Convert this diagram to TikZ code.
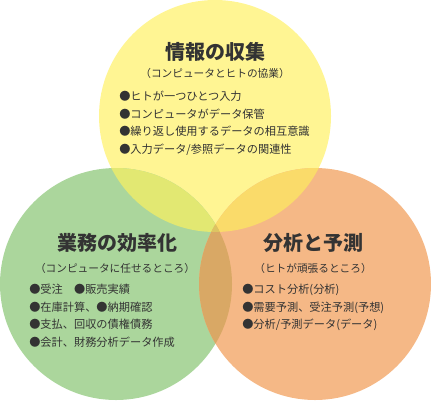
\documentclass[tikz,border=0pt]{standalone}
\usepackage{fontspec}
\setmainfont{Noto Sans CJK JP}
\usepackage{xcolor}
\usetikzlibrary{positioning}

\definecolor{circYellow}{HTML}{FFF593}
\definecolor{circGreen}{HTML}{ABD69C}
\definecolor{circOrange}{HTML}{F5B886}
\definecolor{mixYG}{HTML}{E2E872}
\definecolor{mixYO}{HTML}{FADB6A}
\definecolor{mixGO}{HTML}{D9A865}
\definecolor{mixAll}{HTML}{DDC462}
\definecolor{txtGray}{HTML}{333333}

\newcommand{\circY}{(215,116) circle (116)}
\newcommand{\circG}{(116,284) circle (116)}
\newcommand{\circO}{(315,284) circle (116)}

\tikzset{
  headline/.style={text=txtGray, font=\fontsize{15}{18}\selectfont\bfseries, inner sep=0pt},
  subline/.style={text=txtGray, font=\fontsize{8}{10}\selectfont, inner sep=0pt},
  itemlist/.style={text=txtGray, font=\fontsize{8.4}{13.1}\selectfont, inner sep=0pt, align=left, anchor=north west}
}

\begin{document}
\begin{tikzpicture}[x=0.75pt, y=-0.75pt]
  \useasboundingbox (0,0) rectangle (431,400);
  % circles
  \fill[circYellow] \circY;
  \fill[circGreen] \circG;
  \fill[circOrange] \circO;
  % overlaps
  \begin{scope}
    \clip \circY;
    \fill[mixYG] \circG;
    \fill[mixYO] \circO;
  \end{scope}
  \begin{scope}
    \clip \circG;
    \fill[mixGO] \circO;
  \end{scope}
  \begin{scope}
    \clip \circY;
    \clip \circG;
    \fill[mixAll] \circO;
  \end{scope}

  % top: 情報の収集
  \node[headline] (infoTitle) at (215,52) {情報の収集};
  \node[subline] (infoSub) at (215,73) {（コンピュータとヒトの協業）};
  \node[itemlist] (infoList) at (119,91) {●ヒトが一つひとつ入力\\●コンピュータがデータ保管\\●繰り返し使用するデータの相互意識\\●入力データ/参照データの関連性};

  % left: 業務の効率化
  \node[headline] (workTitle) at (117,243) {業務の効率化};
  \node[subline] (workSub) at (115,268) {（コンピュータに任せるところ）};
  \node[itemlist] (workList) at (29,284) {●受注　●販売実績\\●在庫計算、●納期確認\\●支払、回収の債権債務\\●会計、財務分析データ作成};

  % right: 分析と予測
  \node[headline] (anaTitle) at (313,243) {分析と予測};
  \node[subline] (anaSub) at (313,268) {（ヒトが頑張るところ）};
  \node[itemlist] (anaList) at (242,284) {●コスト分析(分析)\\●需要予測、受注予測(予想)\\●分析/予測データ(データ)};
\end{tikzpicture}
\end{document}
